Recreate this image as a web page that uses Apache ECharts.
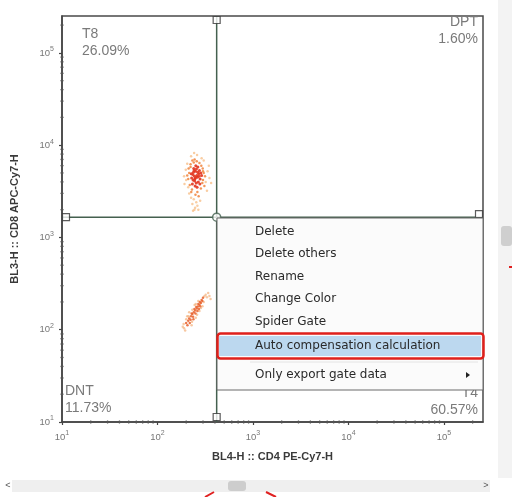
<!DOCTYPE html>
<html>
<head>
<meta charset="utf-8">
<script src="https://cdn.jsdelivr.net/npm/echarts@6/dist/echarts.min.js"></script>
<style>html,body{margin:0;padding:0;background:#fff;}#c{width:512px;height:497px;}</style>
</head>
<body>
<div id="c"></div>
<script>
// ---- data ----
const xAxisName = 'BL4-H :: CD4 PE-Cy7-H';
const yAxisName = 'BL3-H :: CD8 APC-Cy7-H';
const tickExponents = [1, 2, 3, 4, 5];
const minorMultipliers = [2, 3, 4, 5, 6, 7, 8, 9];
const xRange = [10, 257000];
const yRange = [10, 251000];
const gateX = 417;
const gateY = 1660;
const quadNames = ['T8', 'DPT', 'DNT', 'T4'];
const quadPercents = ['26.09%', '1.60%', '11.73%', '60.57%'];
const menuItems = ['Delete', 'Delete others', 'Rename', 'Change Color', 'Spider Gate', 'Auto compensation calculation', 'Only export gate data'];

// T8 cluster
const t8Core = [[235,4800],[250,5200],[262,4500],[245,4100],[270,4900],[228,4400],[255,3900],[280,4300],[240,5600],[265,5800],[248,3600],[290,4700],[232,3800],[258,4700],[275,5300],[244,4600],[268,4000],[252,6000],[238,5100],[284,5000],[226,4900],[260,3500],[246,4300],[272,4600],[256,5500],[236,4200],[264,5100],[250,4400],[278,3800],[242,5300]];
const t8Mid = [[215,5000],[222,6200],[298,5600],[300,4200],[210,4300],[230,3300],[285,3400],[305,5000],[218,3700],[240,6500],[275,6400],[295,3900],[212,5600],[226,3100],[262,3100],[315,4600],[232,6800],[288,6000],[205,4700],[250,2900],[270,2800],[310,3600],[222,5800],[245,7000],[258,6700],[300,5200]];
const t8Outer = [[240,2600],[255,2400],[232,2300],[262,2200],[225,2700],[280,2500],[248,2100],[268,2000],[215,3000],[320,4000],[335,5200],[200,4200],[198,5400],[225,7600],[260,7800],[290,7200],[242,8200],[305,6800],[210,3500],[330,3200],[244,2000],[236,1950],[190,4600],[192,3800],[350,4400],[365,3900],[345,6000],[205,6300]];
// DNT-side cluster
const lowCore = [[200,118],[210,125],[215,132],[225,140],[232,148],[240,155],[248,162],[258,170],[265,178],[275,186],[285,195],[295,205],[222,128],[236,138],[250,150],[262,160],[272,168],[280,180],[206,112],[228,150],[244,168],[268,190],[290,210],[300,222],[218,118],[255,176],[238,130],[278,200]];
const lowOuter = [[190,104],[195,98],[184,108],[310,230],[320,240],[330,225],[305,200],[260,145],[212,140],[200,130],[245,185],[285,172],[340,250],[350,232],[188,115],[230,122],[215,155],[232,165],[252,190],[268,205],[228,112],[252,135],[275,160],[296,180],[205,140],[360,215]];

// ---- chart ----
const FONT = 'Liberation Sans';
const chart = echarts.init(document.getElementById('c'), null, {renderer: 'canvas'});

function expLabel(v) {
  const l = Math.log10(v);
  const e = Math.round(l);
  if (Math.abs(l - e) > 0.01 || tickExponents.indexOf(e) < 0) return '';
  return '{b|10}{s|' + e + '}';
}
const labelRich = {
  b: {fontSize: 9.5, color: '#777', fontFamily: FONT},
  s: {fontSize: 7, color: '#777', fontFamily: FONT, verticalAlign: 'bottom', padding: [0, 0, 7, 0]}
};
function logAxis(range, name, gap, rotate) {
  return {
    type: 'log', logBase: 10, min: range[0], max: range[1],
    name: name, nameLocation: 'middle', nameGap: gap, nameRotate: rotate,
    nameTextStyle: {fontSize: 11, fontWeight: 'bold', color: '#3a3a3a', fontFamily: FONT},
    axisLine: {show: true, lineStyle: {color: '#444', width: 1.5}},
    axisTick: {show: true, length: 3, lineStyle: {color: '#444', width: 1.2}},
    minorTick: {show: false},
    splitLine: {show: false},
    axisLabel: {formatter: expLabel, rich: labelRich, margin: 8, showMaxLabel: false}
  };
}
function dots(data, color, size, op) {
  return {type: 'scatter', data: data, symbolSize: size, silent: true,
    itemStyle: {color: color, opacity: op}, z: 3};
}
// minor tick values (axis decoration: k * 10^e)
const minorVals = [];
tickExponents.forEach(e => minorMultipliers.forEach(k => minorVals.push(k * Math.pow(10, e))));
const minorX = minorVals.filter(v => v < xRange[1]);
const minorY = minorVals.filter(v => v < yRange[1]);
function minorTickSeries(vals, isX) {
  return {
    type: 'custom', silent: true, z: 4, clip: false,
    data: vals.map(v => isX ? [v, yRange[0]] : [xRange[0], v]),
    renderItem: function (params, api) {
      const p = api.coord([api.value(0), api.value(1)]);
      const shape = isX ? {x1: p[0], y1: p[1] - 1.5, x2: p[0], y2: p[1] + 1.5}
                        : {x1: p[0] - 1.5, y1: p[1], x2: p[0] + 1.5, y2: p[1]};
      return {type: 'line', shape: shape, style: {stroke: '#555', lineWidth: 1.3}};
    }
  };
}
const gateColor = '#44604f';
const menuTextX = 255;
const menuY = [232, 254, 277, 299, 322, 346, 375];

const graphics = [];
// quadrant labels
const qPos = [
  {x: 82, y: 26, a: 'left'}, {x: 478, y: 14, a: 'right'},
  {x: 65, y: 383, a: 'left'}, {x: 478, y: 385, a: 'right'}
];
quadNames.forEach((n, i) => {
  graphics.push({type: 'text', x: qPos[i].x, y: qPos[i].y, z: 50,
    style: {text: n + '\n' + quadPercents[i], fill: '#7a7a7a', font: '14px ' + FONT, align: qPos[i].a, verticalAlign: 'top', lineHeight: 17}});
});
// context menu
graphics.push({type: 'rect', z: 100, shape: {x: 217, y: 218, width: 266, height: 172}, style: {fill: '#fbfbfb', stroke: '#6a6a6a', lineWidth: 1}});
graphics.push({type: 'line', z: 101, shape: {x1: 250, y1: 362, x2: 478, y2: 362}, style: {stroke: '#e4e4e4', lineWidth: 1}});
graphics.push({type: 'rect', z: 101, shape: {x: 219, y: 336, width: 262, height: 20}, style: {fill: '#bcd8ef'}});
graphics.push({type: 'rect', z: 103, shape: {x: 217.5, y: 333.5, width: 266, height: 25, r: 3}, style: {fill: 'none', stroke: '#e0201b', lineWidth: 2.5}});
menuItems.forEach((t, i) => {
  graphics.push({type: 'text', z: 102, x: menuTextX, y: menuY[i],
    style: {text: t, fill: '#2a2a2a', font: '12px "DejaVu Sans"', align: 'left', verticalAlign: 'middle'}});
});
graphics.push({type: 'polygon', z: 102, shape: {points: [[466, 372], [470, 375], [466, 378]]}, style: {fill: '#222'}});
// scroll bars
graphics.push({type: 'rect', z: 1, shape: {x: 12, y: 480, width: 478, height: 12}, style: {fill: '#efefef'}});
graphics.push({type: 'rect', z: 2, shape: {x: 228, y: 481, width: 18, height: 10, r: 3}, style: {fill: '#cdcdcd'}});
graphics.push({type: 'text', z: 2, x: 8, y: 486, style: {text: '<', fill: '#555', font: '9px ' + FONT, align: 'center', verticalAlign: 'middle'}});
graphics.push({type: 'text', z: 2, x: 486, y: 486, style: {text: '>', fill: '#555', font: '9px ' + FONT, align: 'center', verticalAlign: 'middle'}});
graphics.push({type: 'rect', z: 1, shape: {x: 498, y: 0, width: 14, height: 478}, style: {fill: '#f3f3f3'}});
graphics.push({type: 'rect', z: 2, shape: {x: 501, y: 226, width: 11, height: 20, r: 3}, style: {fill: '#cfcfcf'}});
graphics.push({type: 'line', z: 2, shape: {x1: 205, y1: 497, x2: 214, y2: 492}, style: {stroke: '#e02020', lineWidth: 2}});
graphics.push({type: 'line', z: 2, shape: {x1: 266, y1: 492, x2: 276, y2: 497}, style: {stroke: '#e02020', lineWidth: 2}});
graphics.push({type: 'line', z: 2, shape: {x1: 509, y1: 267, x2: 512, y2: 267}, style: {stroke: '#e02020', lineWidth: 2}});

const option = {
  backgroundColor: '#fff',
  animation: false,
  grid: {left: 62, top: 16, right: 29, bottom: 75, show: true, borderColor: '#4a4a4a', borderWidth: 1.5, backgroundColor: 'transparent'},
  xAxis: logAxis(xRange, xAxisName, 29, 0),
  yAxis: logAxis(yRange, yAxisName, 42, 90),
  series: [
    dots(t8Outer, '#f6b87a', 2.5, 0.7),
    dots(t8Mid, '#f0843c', 2.5, 0.85),
    dots(t8Core, '#e2341f', 3, 0.9),
    dots(lowOuter, '#f4b07a', 2.5, 0.7),
    dots(lowCore, '#e8602c', 2.5, 0.85),
    minorTickSeries(minorX, true),
    minorTickSeries(minorY, false),
    {type: 'line', data: [[gateX, yRange[0]], [gateX, yRange[1]]], symbol: 'none', silent: true, z: 5, lineStyle: {color: gateColor, width: 1.5}},
    {type: 'line', data: [[xRange[0], gateY], [xRange[1], gateY]], symbol: 'none', silent: true, z: 5, lineStyle: {color: gateColor, width: 1.5}},
    {type: 'scatter', silent: true, z: 6, symbol: 'rect', symbolSize: 7,
      itemStyle: {color: '#fff', borderColor: '#333', borderWidth: 1.2},
      data: [
        {value: [gateX, yRange[1]], symbolOffset: [0, 4]},
        {value: [gateX, yRange[0]], symbolOffset: [0, -5]},
        {value: [xRange[0], gateY], symbolOffset: [4, 0]},
        {value: [xRange[1], gateY], symbolOffset: [-4, -3]}
      ]},
    {type: 'scatter', silent: true, z: 6, symbol: 'circle', symbolSize: 8,
      itemStyle: {color: '#fff', borderColor: gateColor, borderWidth: 1.5},
      data: [[gateX, gateY]]}
  ],
  graphic: graphics
};
chart.setOption(option);
</script>
</body>
</html>
